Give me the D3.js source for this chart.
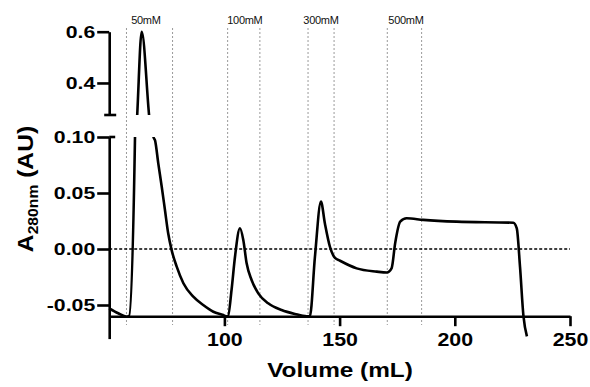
<!DOCTYPE html>
<html>
<head>
<meta charset="utf-8">
<script src="https://cdn.jsdelivr.net/npm/d3@7"></script>
<style>
body { margin: 0; background: #fff; }
svg { display: block; font-family: "Liberation Sans", Arial, sans-serif; }
</style>
</head>
<body>
<div id="chart-area"></div>
<script>
// Chromatogram trace (mL, AU)
const volume = [50.0, 53.9, 57.6, 58.6, 61.2, 62.2, 64.1, 67.3, 69.2, 69.9, 71.3, 72.8, 74.2, 75.6, 77.1,
    79.3, 82.2, 86.5, 90.8, 95.2, 99.5, 100.7,
    101.6, 103.1, 104.6, 106.75, 108.2, 109.65, 111.8, 114.7, 119.0, 124.8, 130.6, 135.7,
    137.1, 139.3, 141.9, 143.6, 145.8, 148.0, 150.2, 157.4, 166.1, 170.5, 172.6, 174.1, 176.3, 179.1,
    186.3, 200.8, 225.4, 226.9, 228.3, 229.8, 231.3]
const absorbance = [-0.053, -0.0574, -0.0605, -0.060, 0.10, 0.283, 0.60, 0.275, 0.10, 0.097, 0.0765, 0.0556, 0.0348, 0.014, -0.001,
    -0.0158, -0.0306, -0.0426, -0.050, -0.056, -0.059, -0.060,
    -0.0597, -0.0366, -0.0069, 0.0185, 0.008, -0.0128, -0.0277, -0.0396, -0.0485, -0.0545, -0.058, -0.060,
    -0.060, -0.0069, 0.0423, 0.023, 0.002, -0.008, -0.0105, -0.0173, -0.0202, -0.021, -0.017, 0.005, 0.0244, 0.0274,
    0.026, 0.0244, 0.0235, 0.0185, -0.0158, -0.060, -0.078]

// fraction boundaries and salt step labels (mL)
const fractionLines = [57.5, 77.5, 101.4, 115.4, 136.3, 147.6, 170.7, 185.6]
const saltLabels = ["50mM", "100mM", "300mM", "500mM"]
const saltLabelX = [65.9, 108.9, 141.9, 178.8]

const xTicks = [100, 150, 200, 250]
const yTicksLow = [-0.05, 0.00, 0.05, 0.10]
const yTicksHigh = [0.4, 0.6]

const data = volume.map((v, i) => ({vol: v, abs: absorbance[i]}))

const width = 590, height = 387

const svg = d3.select("#chart-area").append("svg")
    .attr("width", width)
    .attr("height", height)

// Scales: one x, two y segments for the broken axis
const x = d3.scaleLinear().domain([50, 250]).range([109.2, 570])
const yLow = d3.scaleLinear().domain([-0.08, 0.10]).range([338.6, 137])
const yHigh = d3.scaleLinear().domain([0.275, 0.6]).range([115, 31.7])
const xAxisAt = -0.06

const defs = svg.append("defs")
defs.append("clipPath").attr("id", "clip-low")
    .append("rect").attr("x", 0).attr("y", yLow(0.10)).attr("width", width).attr("height", 220)
defs.append("clipPath").attr("id", "clip-high")
    .append("rect").attr("x", 0).attr("y", 29).attr("width", width).attr("height", yHigh(0.275) - 29)

// fraction lines
svg.selectAll(".frac").data(fractionLines).enter().append("line")
    .attr("class", "frac")
    .attr("x1", d => x(d)).attr("x2", d => x(d))
    .attr("y1", 28).attr("y2", 325)
    .attr("stroke", "#9a9a9a")
    .attr("stroke-width", 1)
    .attr("stroke-dasharray", "2,2")

svg.selectAll(".salt").data(saltLabels).enter().append("text")
    .attr("class", "salt")
    .attr("x", (d, i) => x(saltLabelX[i]))
    .attr("y", 23.5)
    .attr("text-anchor", "middle")
    .attr("font-size", "11px")
    .attr("letter-spacing", "-0.3px")
    .attr("fill", "#111")
    .text(d => d)

// zero line
svg.append("line")
    .attr("x1", x(50)).attr("x2", x(250))
    .attr("y1", yLow(0)).attr("y2", yLow(0))
    .attr("stroke", "#000")
    .attr("stroke-width", 1.3)
    .attr("stroke-dasharray", "3,2")

// trace, drawn once per y segment
const lineLow = d3.line().x(d => x(d.vol)).y(d => yLow(d.abs)).curve(d3.curveMonotoneX)
const lineHigh = d3.line().x(d => x(d.vol)).y(d => yHigh(d.abs)).curve(d3.curveMonotoneX)

svg.append("path")
    .attr("clip-path", "url(#clip-low)")
    .attr("fill", "none")
    .attr("stroke", "#000")
    .attr("stroke-width", 2.6)
    .attr("stroke-linejoin", "round")
    .attr("d", lineLow(data))

svg.append("path")
    .attr("clip-path", "url(#clip-high)")
    .attr("fill", "none")
    .attr("stroke", "#000")
    .attr("stroke-width", 2.6)
    .attr("stroke-linejoin", "round")
    .attr("d", lineHigh(data))

const styleAxis = (g, stretch) => {
    g.attr("font-family", "'Liberation Sans', Arial, sans-serif")
        .attr("font-weight", "bold")
    g.selectAll("path.domain").attr("stroke-width", 2.6)
    g.selectAll(".tick line").attr("stroke-width", 2.6)
    g.selectAll(".tick text")
        .attr("fill", "#000")
        .attr("lengthAdjust", "spacingAndGlyphs")
        .attr("textLength", function () { return this.getComputedTextLength() * stretch })
}

// Axes
const xAxis = svg.append("g")
    .attr("transform", `translate(0, ${yLow(xAxisAt)})`)
    .call(d3.axisBottom(x).tickValues(xTicks).tickSize(10).tickSizeOuter(0).tickPadding(7))
    .attr("font-size", "17.5px")
styleAxis(xAxis, 1.22)

const yAxisLow = svg.append("g")
    .attr("transform", `translate(${x(50)}, 0)`)
    .call(d3.axisLeft(yLow).tickValues(yTicksLow).tickSize(12).tickSizeOuter(0).tickPadding(2)
        .tickFormat(d => d.toFixed(2)))
    .attr("font-size", "17px")
styleAxis(yAxisLow, 1.25)

const yAxisHigh = svg.append("g")
    .attr("transform", `translate(${x(50)}, 0)`)
    .call(d3.axisLeft(yHigh).tickValues(yTicksHigh).tickSize(12).tickSizeOuter(0).tickPadding(2)
        .tickFormat(d => d.toFixed(1)))
    .attr("font-size", "17px")
styleAxis(yAxisHigh, 1.25)

// break caps
svg.append("line")
    .attr("x1", x(50) - 5).attr("x2", x(50) + 7)
    .attr("y1", yHigh(0.275)).attr("y2", yHigh(0.275))
    .attr("stroke", "#000").attr("stroke-width", 2.6)
svg.append("line")
    .attr("x1", x(50)).attr("x2", x(50) + 6)
    .attr("y1", yLow(0.10)).attr("y2", yLow(0.10))
    .attr("stroke", "#000").attr("stroke-width", 2.6)

// Axis titles
svg.append("text")
    .attr("transform", "translate(340, 377) scale(1.16, 1)")
    .attr("text-anchor", "middle")
    .attr("font-size", "21px")
    .attr("font-weight", "bold")
    .text("Volume (mL)")

const yTitle = svg.append("text")
    .attr("transform", "translate(33, 189) rotate(-90) scale(1.12, 1)")
    .attr("text-anchor", "middle")
    .attr("font-size", "22px")
    .attr("font-weight", "bold")
yTitle.append("tspan").text("A")
yTitle.append("tspan").attr("font-size", "14px").attr("dy", 5).text("280nm")
yTitle.append("tspan").attr("dy", -5).text(" (AU)")
</script>
</body>
</html>
